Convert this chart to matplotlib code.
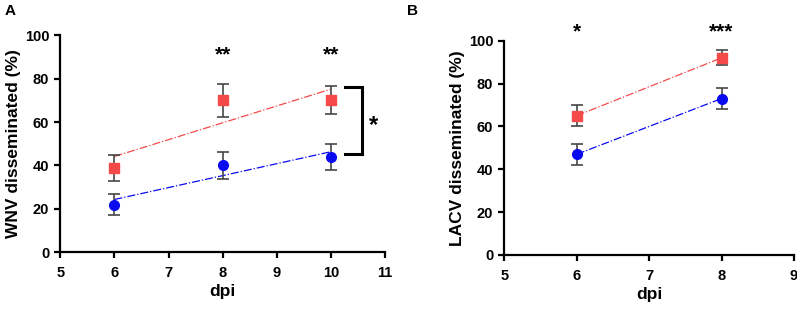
import numpy as np
import matplotlib
matplotlib.use("Agg")
import matplotlib.pyplot as plt

plt.rcParams["font.family"] = ["Liberation Sans", "DejaVu Sans"]
plt.rcParams["font.weight"] = "bold"

# panel A: WNV
wnv_dpi = [6, 8, 10]
wnv_red = [39, 70, 70]
wnv_red_err = [6, 7.5, 6.5]
wnv_blue = [22, 40, 44]
wnv_blue_err = [5, 6, 6]
wnv_stars = ["", "**", "**"]

# panel B: LACV
lacv_dpi = [6, 8]
lacv_red = [65, 92]
lacv_red_err = [5, 3.5]
lacv_blue = [47, 73]
lacv_blue_err = [5, 5]
lacv_stars = ["*", "***"]

RED = "#f44a4a"
BLUE = "#0a0af0"
ERR = "#474747"


def style(ax, xlim, ylabel):
    ax.set_xlim(*xlim)
    ax.set_ylim(0, 100)
    ax.set_xticks(range(xlim[0], xlim[1] + 1))
    ax.set_yticks(range(0, 101, 20))
    for s in ("top", "right"):
        ax.spines[s].set_visible(False)
    for s in ("left", "bottom"):
        ax.spines[s].set_linewidth(1.6)
    ax.tick_params(width=1.6, length=4, labelsize=10.5)
    ax.tick_params(axis="x", pad=6)
    ax.tick_params(axis="y", pad=4)
    for lab in ax.get_xticklabels() + ax.get_yticklabels():
        lab.set_fontweight("bold")
    ax.set_xlabel("dpi", fontsize=12.5, fontweight="bold", labelpad=3)
    ax.set_ylabel(ylabel, fontsize=12.5, fontweight="bold", labelpad=3)


def series(ax, x, y, err, color, marker, fit):
    ax.errorbar(x, y, yerr=err, fmt=marker, color=color, ms=7, ecolor=ERR,
                elinewidth=1.2, capsize=4, capthick=1.2, zorder=3)
    if fit:
        k, b = np.polyfit(x, y, 1)
        xs = np.array([x[0], x[-1]])
        ax.plot(xs, k * xs + b, ls="-.", lw=0.9, color=color, zorder=2)
    else:
        ax.plot(x, y, ls="-.", lw=0.9, color=color, zorder=2)


fig = plt.figure(figsize=(7.97, 3.12), dpi=100)
axA = fig.add_axes([0.0757, 0.1913, 0.4073, 0.6957])
axB = fig.add_axes([0.6328, 0.1827, 0.3634, 0.6869])

series(axA, wnv_dpi, wnv_red, wnv_red_err, RED, "s", True)
series(axA, wnv_dpi, wnv_blue, wnv_blue_err, BLUE, "o", True)
style(axA, (5, 11), "WNV disseminated (%)")
for x, s in zip(wnv_dpi, wnv_stars):
    if s:
        axA.text(x, 91, s, ha="center", va="center", fontsize=15, fontweight="bold")
# bracket between the two groups at 10 dpi
axA.plot([10.27, 10.58, 10.58, 10.27], [76, 76, 45.5, 45.5], color="black",
         lw=2.2, clip_on=False, solid_joinstyle="miter")
axA.text(10.79, 58.5, "*", ha="center", va="center", fontsize=17, fontweight="bold")

series(axB, lacv_dpi, lacv_red, lacv_red_err, RED, "s", False)
series(axB, lacv_dpi, lacv_blue, lacv_blue_err, BLUE, "o", False)
style(axB, (5, 9), "LACV disseminated (%)")
for x, s in zip(lacv_dpi, lacv_stars):
    axB.text(x, 104, s, ha="center", va="center", fontsize=15, fontweight="bold",
             clip_on=False)

fig.text(0.006, 0.965, "A", fontsize=11, fontweight="bold", va="center")
fig.text(0.511, 0.965, "B", fontsize=11, fontweight="bold", va="center")

fig.savefig("out.png", dpi=100)
